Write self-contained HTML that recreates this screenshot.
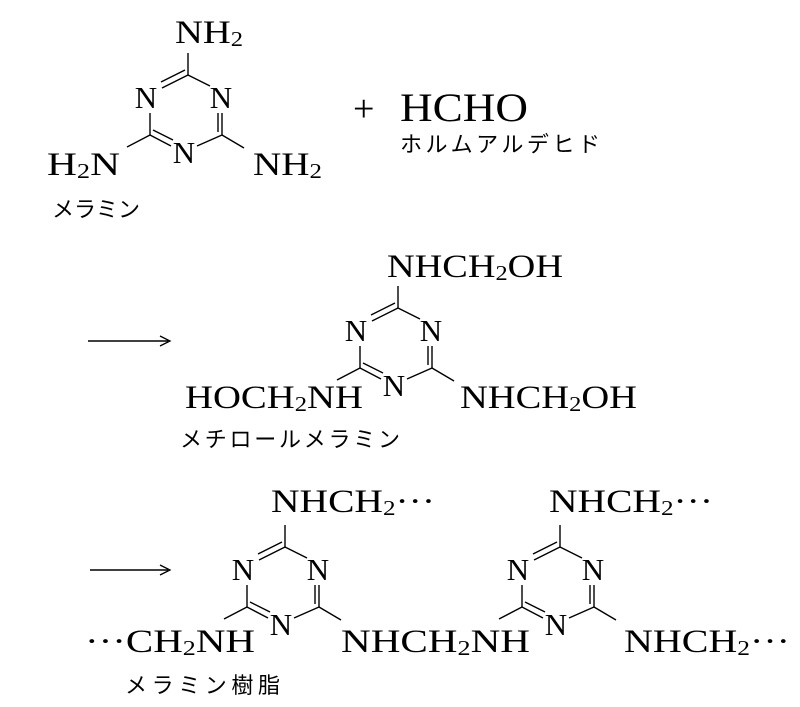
<!DOCTYPE html>
<html><head><meta charset="utf-8"><style>
html,body{margin:0;padding:0;background:#fff;}
svg{display:block;}
text{font-family:"Liberation Serif",serif;fill:#000;}
.j{font-family:"Liberation Sans","Noto Sans CJK JP",sans-serif;font-size:22px;}
.s{font-size:33px;}
.r{font-size:31px;}
</style></head><body>
<svg width="800" height="707" viewBox="0 0 800 707" xmlns="http://www.w3.org/2000/svg">
<defs>
<g id="ring" stroke="#000" stroke-width="1.4" fill="none">
  <line x1="188" y1="53" x2="188" y2="75"/>
  <line x1="188" y1="75" x2="162" y2="88"/>
  <line x1="185" y1="70" x2="161" y2="82"/>
  <line x1="188" y1="75" x2="210" y2="86"/>
  <line x1="150" y1="113" x2="150" y2="135"/>
  <line x1="150" y1="135" x2="171" y2="146"/>
  <line x1="153" y1="130" x2="173" y2="140"/>
  <line x1="197" y1="146" x2="222" y2="135"/>
  <line x1="222" y1="135" x2="222" y2="113"/>
  <line x1="218" y1="132" x2="218" y2="113"/>
  <line x1="150" y1="135" x2="127" y2="147"/>
  <line x1="222" y1="135" x2="244" y2="148"/>
</g>
<g id="ringN">
  <use href="#ring"/>
  <text class="r" x="146" y="108" text-anchor="middle">N</text>
  <text class="r" x="221" y="108" text-anchor="middle">N</text>
  <text class="r" x="184" y="163" text-anchor="middle">N</text>
</g>
</defs>

<!-- Melamine -->
<use href="#ringN"/>
<text class="s" x="175" y="43" textLength="68" lengthAdjust="spacingAndGlyphs">NH<tspan font-size="21" dy="3">2</tspan></text>
<text class="s" x="47" y="175" textLength="73" lengthAdjust="spacingAndGlyphs">H<tspan font-size="21" dy="3">2</tspan><tspan dy="-3">N</tspan></text>
<text class="s" x="253" y="175" textLength="69" lengthAdjust="spacingAndGlyphs">NH<tspan font-size="21" dy="3">2</tspan></text>
<text class="j" x="52" y="217" textLength="88" lengthAdjust="spacing">メラミン</text>

<text x="353" y="121" font-size="38">+</text>
<text x="400" y="121" font-size="40" textLength="128" lengthAdjust="spacingAndGlyphs">HCHO</text>
<text class="j" x="400" y="152" textLength="200" lengthAdjust="spacing">ホルムアルデヒド</text>

<!-- arrow 1 -->
<line x1="88" y1="341" x2="168" y2="341" stroke="#000" stroke-width="1.5"/>
<path d="M160,336 L170,341 L160,346" stroke="#000" stroke-width="1.3" fill="none"/>

<!-- Methylol melamine -->
<g transform="translate(210,233)"><use href="#ringN"/></g>
<text class="s" x="387" y="277" textLength="176" lengthAdjust="spacingAndGlyphs">NHCH<tspan font-size="21" dy="3">2</tspan><tspan dy="-3">OH</tspan></text>
<text class="s" x="185" y="408" textLength="178" lengthAdjust="spacingAndGlyphs">HOCH<tspan font-size="21" dy="3">2</tspan><tspan dy="-3">NH</tspan></text>
<text class="s" x="460" y="408" textLength="177" lengthAdjust="spacingAndGlyphs">NHCH<tspan font-size="21" dy="3">2</tspan><tspan dy="-3">OH</tspan></text>
<text class="j" x="180" y="447" textLength="220" lengthAdjust="spacing">メチロールメラミン</text>

<!-- arrow 2 -->
<line x1="90" y1="570" x2="168" y2="570" stroke="#000" stroke-width="1.5"/>
<path d="M160,565 L170,570 L160,575" stroke="#000" stroke-width="1.3" fill="none"/>

<!-- Resin -->
<g transform="translate(97,472)"><use href="#ringN"/></g>
<g transform="translate(372,472)"><use href="#ringN"/></g>
<text class="s" x="271" y="512" textLength="164" lengthAdjust="spacingAndGlyphs">NHCH<tspan font-size="21" dy="3">2</tspan><tspan dy="-3">···</tspan></text>
<text class="s" x="549" y="512" textLength="164" lengthAdjust="spacingAndGlyphs">NHCH<tspan font-size="21" dy="3">2</tspan><tspan dy="-3">···</tspan></text>
<text class="s" x="85" y="652" textLength="170" lengthAdjust="spacingAndGlyphs">···CH<tspan font-size="21" dy="3">2</tspan><tspan dy="-3">NH</tspan></text>
<text class="s" x="341" y="652" textLength="189" lengthAdjust="spacingAndGlyphs">NHCH<tspan font-size="21" dy="3">2</tspan><tspan dy="-3">NH</tspan></text>
<text class="s" x="624" y="652" textLength="166" lengthAdjust="spacingAndGlyphs">NHCH<tspan font-size="21" dy="3">2</tspan><tspan dy="-3">···</tspan></text>
<text class="j" x="125" y="693" textLength="155" lengthAdjust="spacing">メラミン樹脂</text>
</svg>
</body></html>
